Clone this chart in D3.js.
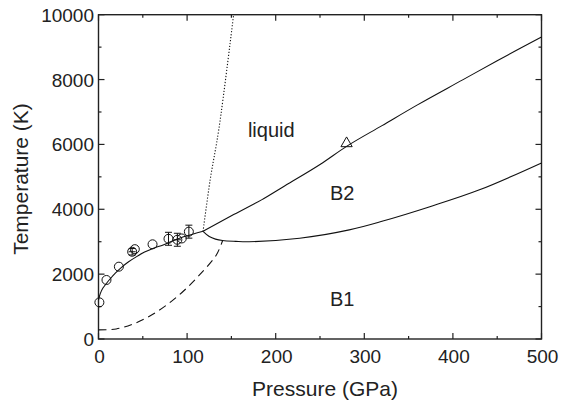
<!DOCTYPE html>
<html>
<head>
<meta charset="utf-8">
<script src="https://cdn.jsdelivr.net/npm/d3@7"></script>
<style>
  body { margin: 0; background: #fff; }
  svg { display: block; }
  text { font-family: "Liberation Sans", Arial, Helvetica, sans-serif; fill: #222; }
</style>
</head>
<body>
<svg width="562" height="405"></svg>
<script>
// melting curve (solid, B1 -> liquid), [P GPa, T K]
const meltB1 = [[0, 1200], [2, 1400], [5, 1570], [8, 1680], [13, 1850], [19, 2030], [26, 2210],
  [34, 2380], [43, 2540], [52, 2680], [62, 2800], [73, 2900], [85, 3040], [96, 3150],
  [107, 3240], [118, 3320]];
// liquid / B2 boundary
const meltB2 = [[118, 3320], [150, 3800], [184, 4290], [210, 4720], [250, 5380], [280, 5940],
  [320, 6580], [360, 7220], [411, 7990], [450, 8580], [500, 9310]];
// B1 / B2 boundary
const b1b2 = [[118, 3320], [125, 3160], [132, 3080], [140, 3035], [155, 3010], [170, 3000],
  [227, 3105], [283, 3365], [320, 3630], [374, 4080], [430, 4600], [500, 5430]];
// dashed curve
const dashed = [[0, 280], [20, 310], [39, 460], [58, 710], [77, 1050], [96, 1480], [114, 1975],
  [133, 2590], [140, 3030]];
// dotted extrapolation
const dotted = [[118, 3320], [126, 4900], [136, 6500], [152.5, 10000]];
// experimental points [P, T, dT, dP]
const expPoints = [[1, 1130, 0, 0], [9, 1820, 0, 0], [23, 2230, 0, 0], [38, 2690, 100, 4],
  [41, 2770, 0, 0], [61, 2920, 0, 0], [79, 3090, 200, 0], [89, 3060, 200, 4],
  [94, 3100, 0, 0], [102, 3310, 200, 0]];
const triangle = [[280, 6000]];
const xTicks = [0, 100, 200, 300, 400, 500];
const yTicks = [0, 2000, 4000, 6000, 8000, 10000];
const regionLabels = [["liquid", 195, 6235], ["B2", 275, 4290], ["B1", 275, 1030]];

const svg = d3.select('svg');
const plotLeft = 98.5, plotRight = 541.5, plotTop = 14.7, plotBottom = 339;

const x = d3.scaleLinear().domain([0, 500]).range([plotLeft, plotRight]);
const y = d3.scaleLinear().domain([0, 10000]).range([plotBottom, plotTop]);

const minorX = d3.range(50, 500, 100);
const minorY = d3.range(1000, 10000, 2000);

// ticks, inward on all four sides
const tickG = svg.append('g').attr('stroke', '#222').attr('stroke-width', 1.2);
function tickSet(vals, len, horiz) {
  vals.forEach(v => {
    if (horiz) {
      tickG.append('line').attr('x1', x(v)).attr('x2', x(v)).attr('y1', plotBottom).attr('y2', plotBottom - len);
      tickG.append('line').attr('x1', x(v)).attr('x2', x(v)).attr('y1', plotTop).attr('y2', plotTop + len);
    } else {
      tickG.append('line').attr('y1', y(v)).attr('y2', y(v)).attr('x1', plotLeft).attr('x2', plotLeft + len);
      tickG.append('line').attr('y1', y(v)).attr('y2', y(v)).attr('x1', plotRight).attr('x2', plotRight - len);
    }
  });
}
tickSet(xTicks, 6, true);
tickSet(minorX, 3, true);
tickSet(yTicks, 6, false);
tickSet(minorY, 3, false);

svg.append('rect')
  .attr('x', plotLeft).attr('y', plotTop)
  .attr('width', plotRight - plotLeft).attr('height', plotBottom - plotTop)
  .attr('fill', 'none').attr('stroke', '#222').attr('stroke-width', 1.4);

// tick labels
svg.append('g').selectAll('text').data(xTicks).join('text')
  .attr('x', d => x(d) + 1).attr('y', 363)
  .attr('text-anchor', 'middle').attr('font-size', 19)
  .text(d => d);
svg.append('g').selectAll('text').data(yTicks).join('text')
  .attr('x', 94).attr('y', d => y(d) + 7)
  .attr('text-anchor', 'end').attr('font-size', 19)
  .text(d => d);

// axis titles
svg.append('text').attr('x', (plotLeft + plotRight) / 2 + 5).attr('y', 396)
  .attr('text-anchor', 'middle').attr('font-size', 21).text('Pressure (GPa)');
svg.append('text').attr('transform', 'translate(28,179) rotate(-90)')
  .attr('text-anchor', 'middle').attr('font-size', 21).text('Temperature (K)');

// curves
const smooth = d3.line().x(d => x(d[0])).y(d => y(d[1])).curve(d3.curveCatmullRom);
const line = d3.line().x(d => x(d[0])).y(d => y(d[1])).curve(d3.curveMonotoneX);
const curveG = svg.append('g').attr('fill', 'none').attr('stroke', '#111').attr('stroke-width', 1.1);
curveG.append('path').attr('d', smooth(meltB1));
curveG.append('path').attr('d', line(meltB2));
curveG.append('path').attr('d', smooth(b1b2));
curveG.append('path').attr('d', smooth(dashed)).attr('stroke-dasharray', '8,5');
curveG.append('path').attr('d', smooth(dotted)).attr('stroke-dasharray', '1.2,1.8');

// experimental points
const ptG = svg.append('g').attr('fill', 'none').attr('stroke', '#111').attr('stroke-width', 1);
expPoints.forEach(([p, t, dt, dp]) => {
  if (dt > 0) {
    ptG.append('line').attr('x1', x(p)).attr('x2', x(p)).attr('y1', y(t - dt)).attr('y2', y(t + dt));
    [t - dt, t + dt].forEach(v => ptG.append('line')
      .attr('x1', x(p) - 3.5).attr('x2', x(p) + 3.5).attr('y1', y(v)).attr('y2', y(v)));
  }
  if (dp > 0) {
    ptG.append('line').attr('x1', x(p - dp)).attr('x2', x(p + dp)).attr('y1', y(t)).attr('y2', y(t));
  }
  ptG.append('circle').attr('cx', x(p)).attr('cy', y(t)).attr('r', 4.5);
});
ptG.selectAll('path.tri').data(triangle).join('path')
  .attr('d', d3.symbol(d3.symbolTriangle, 55))
  .attr('transform', d => `translate(${x(d[0])},${y(d[1]) - 1})`);

// region labels
svg.append('g').selectAll('text').data(regionLabels).join('text')
  .attr('x', d => x(d[1])).attr('y', d => y(d[2]))
  .attr('text-anchor', 'middle').attr('font-size', 20)
  .text(d => d[0]);
</script>
</body>
</html>
